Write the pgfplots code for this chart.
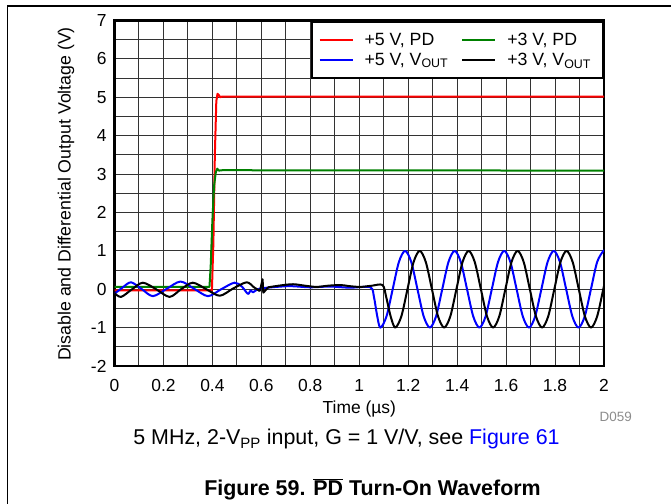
\documentclass[border=0pt]{standalone}
\usepackage{pgfplots}
\pgfplotsset{compat=1.18}
\usepackage{fontspec}
\setmainfont{Liberation Sans}
\definecolor{pdgreen}{RGB}{0,128,0}
\definecolor{refblue}{RGB}{0,0,255}
\newcommand{\legfont}{\fontsize{17.8}{20}\selectfont}
\begin{document}
\begin{tikzpicture}
\useasboundingbox (0bp,0bp) rectangle (671bp,504bp);
\draw[line width=1.3bp] (7.3bp,0bp) -- (7.3bp,498bp) -- (671bp,498bp);
\begin{axis}[
  at={(114.5bp,138bp)}, anchor=south west,
  scale only axis, width=489.5bp, height=345.5bp,
  xmin=0, xmax=2, ymin=-2, ymax=7,
  xtick={0,0.2,0.4,0.6,0.8,1,1.2,1.4,1.6,1.8,2},
  ytick={-2,-1,0,1,2,3,4,5,6,7},
  minor x tick num=1, minor y tick num=1,
  grid=both,
  major grid style={line width=1bp, black!80},
  minor grid style={line width=1bp, black!80},
  major tick length=0pt, minor tick length=0pt,
  axis line style={line width=2.4bp},
  /pgf/number format/assume math mode=true,
  ticklabel style={font=\fontsize{17.5}{19}\selectfont},
  xticklabel style={yshift=-10bp},
  yticklabel style={xshift=-4.5bp},
  legend columns=2,
  legend cell align=left,
  legend image code/.code={\draw[#1] (0bp,0bp) -- (33bp,0bp); \path (39bp,0bp);},
  legend style={at={(1,1)}, anchor=north east, draw=black, line width=2bp, fill=white,
     font=\legfont, inner xsep=7bp, inner ysep=8.5bp, row sep=0bp,
     nodes={inner xsep=5bp, inner ysep=3bp, font=\legfont},
     /tikz/every even column/.append style={column sep=8bp}},
  every axis plot/.append style={line width=2bp, line join=round},
]
% +5 V, PD
\addplot[red] coordinates {
(0,-0.03) (0.398,-0.03) (0.404,1.2) (0.41,3.5) (0.416,4.9) (0.421,5.09) (0.426,5.06) (0.432,5.0) (0.44,5.02) (2,5.02)
};
\addlegendentry{+5 V, PD}
% +3 V, PD
\addplot[pdgreen] coordinates {
(0,0.06) (0.388,0.06) (0.393,0.6) (0.4,1.8) (0.407,2.7) (0.414,3.05) (0.42,3.14) (0.427,3.09) (0.44,3.1) (2,3.09)
};
\addlegendentry{+3 V, PD}
% +5 V, VOUT
\addplot[refblue, smooth] coordinates {
(0,-0.12) (0.034,0.05) (0.068,0.18) (0.112,0.0) (0.157,-0.18) (0.213,0.01) (0.27,0.2) (0.326,0.01) (0.382,-0.18) (0.436,0.0) (0.49,0.17) (0.52,0.07) (0.545,-0.12) (0.556,-0.03) (0.566,-0.08) (0.585,0.0) (0.61,0.03) (0.66,0.06) (0.72,0.08) (0.8,0.05) (0.88,0.07) (0.96,0.04) (1.045,0.05) (1.06,-0.2) (1.072,-0.65)
(1.086,-1) (1.1113,-0.707) (1.1366,0) (1.1619,0.707) (1.1873,1) (1.2126,0.707) (1.2379,0) (1.2632,-0.707)
(1.2885,-1) (1.3138,-0.707) (1.3391,0) (1.3644,0.707) (1.3898,1) (1.4151,0.707) (1.4404,0) (1.4657,-0.707)
(1.491,-1) (1.5163,-0.707) (1.5416,0) (1.5669,0.707) (1.5923,1) (1.6176,0.707) (1.6429,0) (1.6682,-0.707)
(1.6935,-1) (1.7188,-0.707) (1.7441,0) (1.7694,0.707) (1.7948,1) (1.8201,0.707) (1.8454,0) (1.8707,-0.707)
(1.896,-1) (1.9213,-0.707) (1.9466,0) (1.9719,0.707) (1.9973,1) (2.0,0.995)
};
\addlegendentry{+5 V, V\textsubscript{OUT}}
% +3 V, VOUT
\addplot[black, smooth] coordinates {
(0,-0.1) (0.027,-0.2) (0.072,0.0) (0.116,0.17) (0.17,0.0) (0.225,-0.2) (0.272,0.0) (0.32,0.17) (0.375,0.0) (0.43,-0.17) (0.485,0.02) (0.54,0.18) (0.57,0.05) (0.594,-0.05)
};
\addlegendentry{+3 V, V\textsubscript{OUT}}
\addplot[black, forget plot] coordinates {
(0.594,-0.05) (0.605,0.26) (0.608,-0.09) (0.628,0.05)
};
\addplot[black, smooth, forget plot] coordinates {
(0.628,0.05) (0.68,0.1) (0.73,0.13) (0.78,0.09) (0.826,0.06) (0.87,0.09) (0.922,0.11) (0.96,0.08) (1.004,0.06) (1.05,0.09) (1.095,0.11) (1.11,-0.2) (1.128,-0.7)
(1.147,-1) (1.172,-0.707) (1.197,0) (1.222,0.707) (1.247,1) (1.272,0.707) (1.297,0) (1.322,-0.707)
(1.347,-1) (1.372,-0.707) (1.397,0) (1.422,0.707) (1.447,1) (1.472,0.707) (1.497,0) (1.522,-0.707)
(1.547,-1) (1.572,-0.707) (1.597,0) (1.622,0.707) (1.647,1) (1.672,0.707) (1.697,0) (1.722,-0.707)
(1.747,-1) (1.772,-0.707) (1.797,0) (1.822,0.707) (1.847,1) (1.872,0.707) (1.897,0) (1.922,-0.707)
(1.947,-1) (1.972,-0.707) (1.997,0) (2.0,0.09)
};
\end{axis}
\node[rotate=90, font=\fontsize{17.8}{19}\selectfont] at (66bp,310bp) {Disable and Differential Output Voltage (V)};
\node[anchor=base, inner sep=0pt, font=\fontsize{17.5}{19}\selectfont] at (359.3bp,90.5bp) {Time (µs)};
\node[anchor=base east, inner sep=0pt, font=\fontsize{13.5}{15}\selectfont, text=black!45] at (632bp,82.3bp) {D059};
\node[anchor=base, inner sep=0pt, font=\fontsize{21.5}{24}\selectfont] at (346.5bp,59bp) {5 MHz, 2-V\textsubscript{PP} input, G = 1 V/V, see \textcolor{refblue}{Figure 61}};
\node[anchor=base, inner sep=0pt, font=\fontsize{21.5}{24}\selectfont\bfseries] at (372.5bp,9bp) {Figure 59. $\overline{\mbox{PD}}$ Turn-On Waveform};
\end{tikzpicture}
\end{document}
